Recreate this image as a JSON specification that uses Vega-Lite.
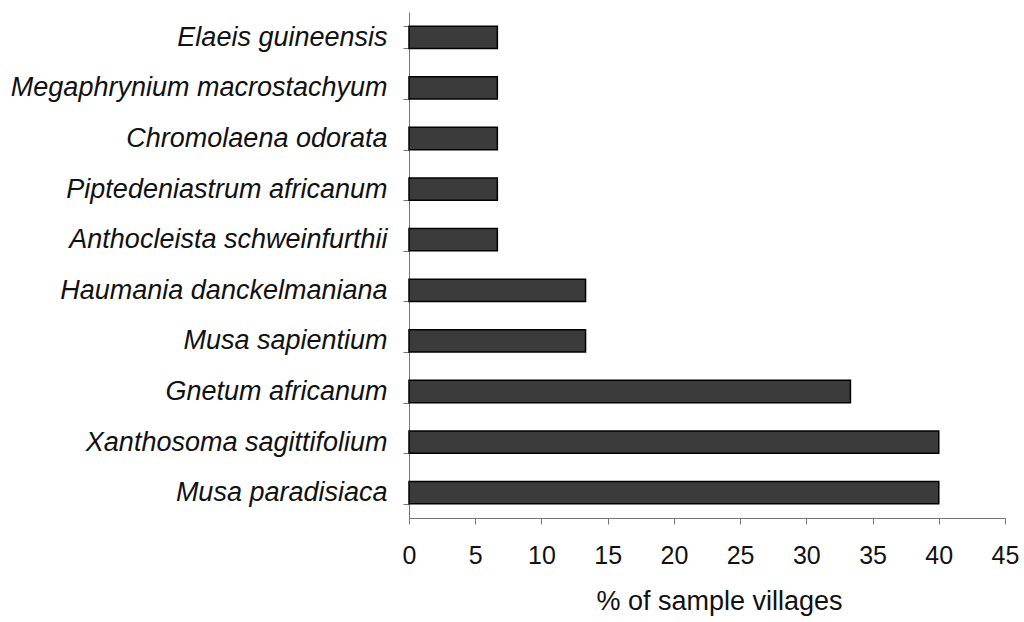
{
  "$schema": "https://vega.github.io/schema/vega-lite/v6.json",
  "width": 596,
  "height": 506,
  "autosize": "none",
  "padding": {"left": 409, "top": 12, "right": 19, "bottom": 104},
  "background": "white",
  "data": {
    "values": [
      {"species": "Elaeis guineensis", "pct": 6.67},
      {"species": "Megaphrynium macrostachyum", "pct": 6.67},
      {"species": "Chromolaena odorata", "pct": 6.67},
      {"species": "Piptedeniastrum africanum", "pct": 6.67},
      {"species": "Anthocleista schweinfurthii", "pct": 6.67},
      {"species": "Haumania danckelmaniana", "pct": 13.33},
      {"species": "Musa sapientium", "pct": 13.33},
      {"species": "Gnetum africanum", "pct": 33.33},
      {"species": "Xanthosoma sagittifolium", "pct": 40},
      {"species": "Musa paradisiaca", "pct": 40}
    ]
  },
  "mark": {"type": "bar", "fill": "#3b3b3b", "stroke": "#000000", "strokeWidth": 1.5},
  "encoding": {
    "y": {
      "field": "species",
      "type": "nominal",
      "sort": null,
      "scale": {"paddingInner": 0.56, "paddingOuter": 0.28},
      "axis": {
        "title": null,
        "domainColor": "#777777",
        "tickColor": "#777777",
        "tickSize": 6,
        "tickBand": "extent",
        "labelPadding": 16,
        "labelFont": "Liberation Sans",
        "labelFontStyle": "italic",
        "labelFontSize": 27,
        "labelColor": "#111111",
        "labelLimit": 420
      }
    },
    "x": {
      "field": "pct",
      "type": "quantitative",
      "scale": {"domain": [0, 45], "nice": false},
      "axis": {
        "title": "% of sample villages",
        "values": [0, 5, 10, 15, 20, 25, 30, 35, 40, 45],
        "grid": false,
        "labelFlush": false,
        "domainColor": "#777777",
        "tickColor": "#777777",
        "tickSize": 6,
        "labelPadding": 19,
        "labelFont": "Liberation Sans",
        "labelFontSize": 25,
        "labelColor": "#111111",
        "titleFont": "Liberation Sans",
        "titleFontSize": 27,
        "titleFontWeight": "normal",
        "titleColor": "#111111",
        "titlePadding": 20,
        "titleX": 310
      }
    }
  },
  "config": {"view": {"stroke": null}}
}
